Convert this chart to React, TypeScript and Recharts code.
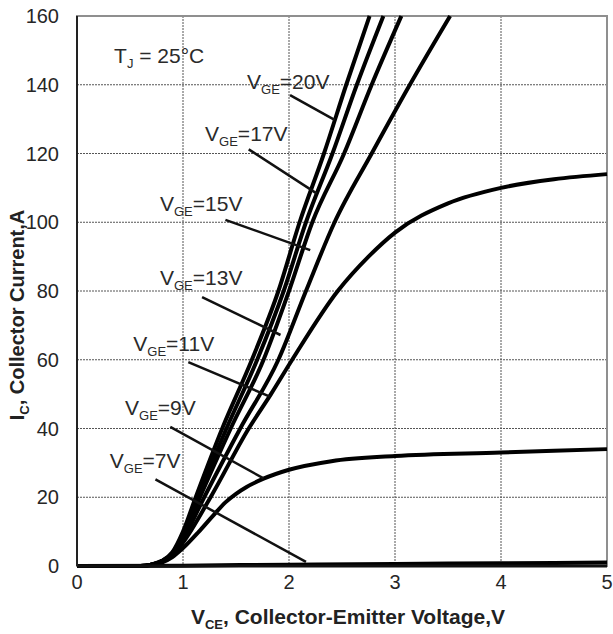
import { LineChart, Line, XAxis, YAxis, CartesianGrid, ReferenceLine, ReferenceDot, ReferenceArea, Label } from 'recharts';

// V_CE (V) and I_C (A), one pair of arrays per gate voltage
const vce20 = [0, 0.6, 0.7, 0.8, 0.9, 1.0, 1.12, 1.37, 1.65, 1.9, 2.1, 2.33, 2.54, 2.76];
const ic20 = [0, 0, 0.4, 1.5, 4, 10, 20, 40, 60, 80, 100, 120, 140, 160];
const vce17 = [0, 0.6, 0.7, 0.8, 0.9, 1.0, 1.14, 1.41, 1.7, 1.95, 2.16, 2.41, 2.64, 2.89];
const ic17 = [0, 0, 0.4, 1.4, 3.8, 9.2, 20, 40, 60, 80, 100, 120, 140, 160];
const vce15 = [0, 0.6, 0.7, 0.8, 0.9, 1.0, 1.16, 1.45, 1.76, 2.0, 2.22, 2.52, 2.78, 3.06];
const ic15 = [0, 0, 0.4, 1.4, 3.6, 8.6, 20, 40, 60, 80, 100, 120, 140, 160];
const vce13 = [0, 0.6, 0.7, 0.8, 0.9, 1.0, 1.2, 1.54, 1.9, 2.16, 2.43, 2.78, 3.14, 3.52];
const ic13 = [0, 0, 0.4, 1.3, 3.4, 7.8, 20, 40, 60, 80, 100, 120, 140, 160];
const vce11 = [0, 0.6, 0.7, 0.8, 0.9, 1.0, 1.26, 1.62, 1.83, 2.03, 2.46, 2.75, 3.0, 3.5, 4.0, 4.5, 5.0];
const ic11 = [0, 0, 0.35, 1.2, 3.0, 6.8, 20, 40, 50, 60, 80, 90, 97, 105.5, 110, 112.5, 114];
const vce9 = [0, 0.6, 0.7, 0.8, 0.9, 1.0, 1.15, 1.28, 1.4, 1.5, 1.6, 1.76, 2.0, 2.4, 3.0, 4.0, 5.0];
const ic9 = [0, 0, 0.3, 1.0, 2.6, 5.2, 10, 14.5, 18.5, 21, 23, 25.4, 28, 30.5, 32, 33, 34];
const vce7 = [0, 1, 2, 3, 4, 5];
const ic7 = [0, 0.1, 0.4, 0.6, 0.8, 1.0];

const xTicks = [0, 1, 2, 3, 4, 5];
const yTicks = [0, 20, 40, 60, 80, 100, 120, 140, 160];

const toPoints = (v: number[], i: number[]) => v.map((x, k) => ({ v: x, i: i[k] }));

const curves = [
  { name: '20V', data: toPoints(vce20, ic20) },
  { name: '17V', data: toPoints(vce17, ic17) },
  { name: '15V', data: toPoints(vce15, ic15) },
  { name: '13V', data: toPoints(vce13, ic13) },
  { name: '11V', data: toPoints(vce11, ic11) },
  { name: '9V', data: toPoints(vce9, ic9) },
  { name: '7V', data: toPoints(vce7, ic7) },
];

const FONT = '"Liberation Sans", Arial, sans-serif';

// label "V_GE=xxV" drawn at the dot position (left edge, baseline)
const geLabel = (volt: string) => (p: any) => (
  <text x={p.cx} y={p.cy} fontSize={21} fill="#2a2a2a" fontFamily={FONT}>
    V<tspan fontSize={13} dy={5}>GE</tspan>
    <tspan dy={-5}>={volt}</tspan>
  </text>
);

const tjLabel = (p: any) => (
  <text x={p.cx} y={p.cy} fontSize={21} fill="#2a2a2a" fontFamily={FONT}>
    T<tspan fontSize={13} dy={5}>J</tspan>
    <tspan dy={-5}> = 25°C</tspan>
  </text>
);

const leader = { stroke: '#111', strokeWidth: 2.5, ifOverflow: 'visible' as const };

export default function App() {
  return (
    <div style={{ position: 'absolute', left: 0, top: 0, background: '#fff' }}>
      <LineChart width={613} height={634} margin={{ top: 16, right: 6, bottom: 0, left: 0 }}>
        <CartesianGrid stroke="#555" strokeDasharray="2 1" strokeWidth={1} />
        <ReferenceArea x1={0} x2={5} y1={0} y2={160} fill="none" stroke="#8f8f8f" strokeWidth={2} ifOverflow="visible" />
        <XAxis
          type="number"
          dataKey="v"
          domain={[0, 5]}
          ticks={xTicks}
          height={68}
          tickSize={0}
          tickMargin={9}
          tickLine={false}
          axisLine={{ stroke: '#111', strokeWidth: 3 }}
          tick={{ fontSize: 20, fill: '#262626', fontFamily: FONT }}
        >
          <Label
            content={(p: any) => (
              <text
                x={p.viewBox.x + p.viewBox.width / 2 + 6}
                y={p.viewBox.y + 58}
                textAnchor="middle"
                fontSize={21}
                fontWeight="bold"
                fill="#222"
                fontFamily={FONT}
              >
                V<tspan fontSize={13} dy={5}>CE</tspan>
                <tspan dy={-5}>, Collector-Emitter Voltage,V</tspan>
              </text>
            )}
          />
        </XAxis>
        <YAxis
          type="number"
          domain={[0, 160]}
          ticks={yTicks}
          width={77}
          tickSize={0}
          tickMargin={18}
          tickLine={false}
          axisLine={{ stroke: '#222', strokeWidth: 2 }}
          tick={{ fontSize: 20, fill: '#262626', fontFamily: FONT }}
        >
          <Label
            content={() => (
              <text
                x={24}
                y={315}
                transform="rotate(-90, 24, 315)"
                textAnchor="middle"
                fontSize={20}
                fontWeight="bold"
                fill="#222"
                fontFamily={FONT}
              >
                I<tspan fontSize={13} dy={5}>C</tspan>
                <tspan dy={-5}>, Collector Current,A</tspan>
              </text>
            )}
          />
        </YAxis>

        {curves.map(c => (
          <Line
            key={c.name}
            data={c.data}
            dataKey="i"
            type="monotone"
            stroke="#000"
            strokeWidth={4}
            dot={false}
            activeDot={false}
            isAnimationActive={false}
          />
        ))}

        <ReferenceLine segment={[{ x: 2.01, y: 137 }, { x: 2.43, y: 129.8 }]} {...leader} />
        <ReferenceLine segment={[{ x: 1.62, y: 121.2 }, { x: 2.26, y: 108.4 }]} {...leader} />
        <ReferenceLine segment={[{ x: 1.4, y: 100.7 }, { x: 2.2, y: 91.9 }]} {...leader} />
        <ReferenceLine segment={[{ x: 1.18, y: 78.2 }, { x: 1.92, y: 67.2 }]} {...leader} />
        <ReferenceLine segment={[{ x: 1.05, y: 59.3 }, { x: 1.82, y: 49.3 }]} {...leader} />
        <ReferenceLine segment={[{ x: 0.88, y: 40.5 }, { x: 1.76, y: 25.5 }]} {...leader} />
        <ReferenceLine segment={[{ x: 0.74, y: 25.2 }, { x: 2.16, y: 1.2 }]} {...leader} />

        <ReferenceDot x={0.35} y={146.4} r={0} shape={tjLabel} ifOverflow="visible" />
        <ReferenceDot x={1.604} y={138.9} r={0} shape={geLabel('20V')} ifOverflow="visible" />
        <ReferenceDot x={1.208} y={123.5} r={0} shape={geLabel('17V')} ifOverflow="visible" />
        <ReferenceDot x={0.783} y={103.3} r={0} shape={geLabel('15V')} ifOverflow="visible" />
        <ReferenceDot x={0.783} y={81.7} r={0} shape={geLabel('13V')} ifOverflow="visible" />
        <ReferenceDot x={0.531} y={62.6} r={0} shape={geLabel('11V')} ifOverflow="visible" />
        <ReferenceDot x={0.453} y={43.9} r={0} shape={geLabel('9V')} ifOverflow="visible" />
        <ReferenceDot x={0.309} y={28.4} r={0} shape={geLabel('7V')} ifOverflow="visible" />
      </LineChart>
    </div>
  );
}
